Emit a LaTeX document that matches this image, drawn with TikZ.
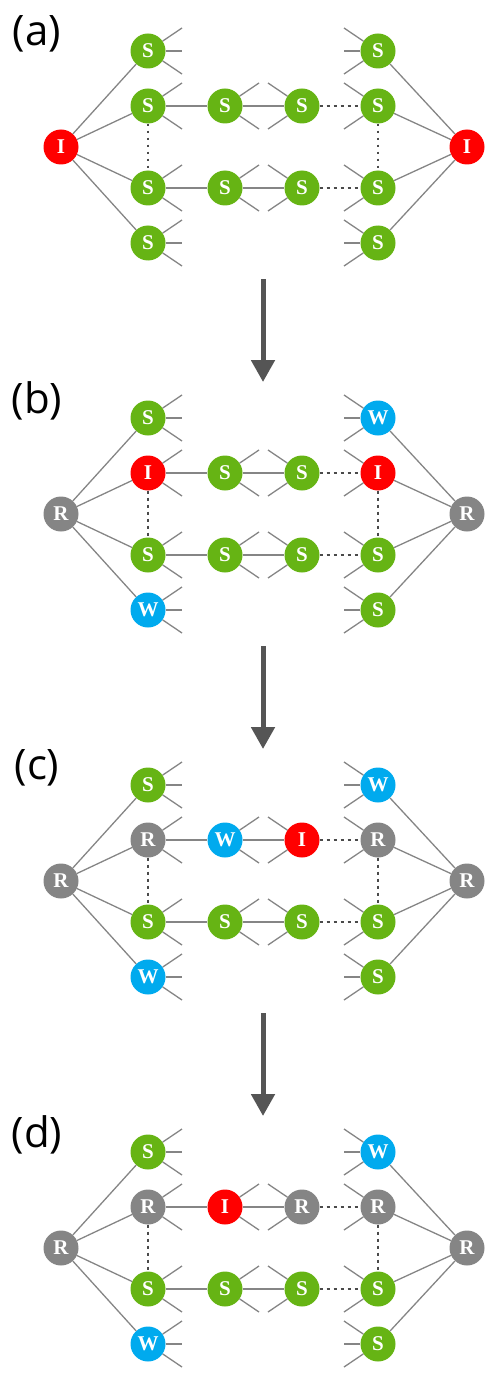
\documentclass[tikz,border=0pt]{standalone}
\usepackage{fontspec}
\usetikzlibrary{arrows.meta}
\newfontfamily\panelfont{Open Sans}
\newfontfamily\statefont{Liberation Serif}
\definecolor{colS}{HTML}{66B414}
\definecolor{colI}{HTML}{FF0000}
\definecolor{colR}{HTML}{858585}
\definecolor{colW}{HTML}{00AAEE}
\definecolor{wiregray}{HTML}{858585}
\definecolor{dotgray}{HTML}{4A4A4A}
\definecolor{arrowgray}{HTML}{555555}
\tikzset{
  st/.style={circle, fill=col#1, minimum size=35pt, inner sep=0pt, text=white,
    font=\statefont\bfseries\fontsize{21}{21}\selectfont},
  wire/.style={draw=wiregray, line width=1.3pt},
  link/.style={draw=dotgray, line width=2.8pt, dash pattern=on 2.8pt off 4.2pt},
  stepdown/.style={draw=arrowgray, line width=5pt, -{Triangle[width=23pt,length=22pt]}},
  panellabel/.style={inner sep=0pt, font=\panelfont\fontsize{42}{42}\selectfont}
}
\begin{document}
\begin{tikzpicture}[x=1pt,y=-1pt]
\useasboundingbox (0,0) rectangle (497,1380);
% one row of the figure per panel: hub, left column, middle top pair, right column, hub
\foreach \p/\hl/\la/\lb/\lc/\ld/\m/\n/\ra/\rb/\rc/\rd/\hr [count=\k] in {
  a/I/S/S/S/S/S/S/S/S/S/S/I,
  b/R/S/I/S/W/S/S/W/I/S/S/R,
  c/R/S/R/S/W/W/I/W/R/S/S/R,
  d/R/S/R/S/W/I/R/W/R/S/S/R}{
  \pgfmathsetmacro\cy{147+367*(\k-1)}
  \node[panellabel] (\p-lab) at (37,\cy-113) {(\p)};
  \node[st=\hl] (\p-hl) at (61,\cy) {\hl};
  \node[st=\la] (\p-l1) at (148,\cy-96) {\la};
  \node[st=\lb] (\p-l2) at (148,\cy-41) {\lb};
  \node[st=\lc] (\p-l3) at (148,\cy+41) {\lc};
  \node[st=\ld] (\p-l4) at (148,\cy+96) {\ld};
  \node[st=\m] (\p-m2) at (225,\cy-41) {\m};
  \node[st=S] (\p-m3) at (225,\cy+41) {S};
  \node[st=\n] (\p-n2) at (302,\cy-41) {\n};
  \node[st=S] (\p-n3) at (302,\cy+41) {S};
  \node[st=\ra] (\p-r1) at (378,\cy-96) {\ra};
  \node[st=\rb] (\p-r2) at (378,\cy-41) {\rb};
  \node[st=\rc] (\p-r3) at (378,\cy+41) {\rc};
  \node[st=\rd] (\p-r4) at (378,\cy+96) {\rd};
  \node[st=\hr] (\p-hr) at (467,\cy) {\hr};
  % links
  \foreach \j in {1,...,4} {
    \draw[wire] (\p-hl) -- (\p-l\j);
    \draw[wire] (\p-hr) -- (\p-r\j);
    \draw[wire] (\p-l\j) -- +(34,-23) (\p-l\j) -- +(34,23);
    \draw[wire] (\p-r\j) -- +(-34,-23) (\p-r\j) -- +(-34,23);
  }
  \foreach \j in {1,4} {
    \draw[wire] (\p-l\j) -- +(34,0);
    \draw[wire] (\p-r\j) -- +(-34,0);
  }
  \foreach \j in {2,3} {
    \draw[wire] (\p-l\j) -- (\p-m\j);
    \draw[wire] (\p-m\j) -- (\p-n\j);
    \draw[wire] (\p-m\j) -- +(34,-23) (\p-m\j) -- +(34,23);
    \draw[wire] (\p-n\j) -- +(-34,-23) (\p-n\j) -- +(-34,23);
    \draw[link] (\p-n\j) -- (\p-r\j);
  }
  \draw[link] (\p-l2) -- (\p-l3);
  \draw[link] (\p-r2) -- (\p-r3);
}
% arrows between panels
\foreach \p [count=\k] in {a,b,c} {
  \pgfmathsetmacro\cy{147+367*(\k-1)}
  \coordinate (\p-top) at (263,\cy+132);
  \coordinate (\p-tip) at (263,\cy+235);
  \draw[stepdown] (\p-top) -- (\p-tip);
}
\end{tikzpicture}
\end{document}
